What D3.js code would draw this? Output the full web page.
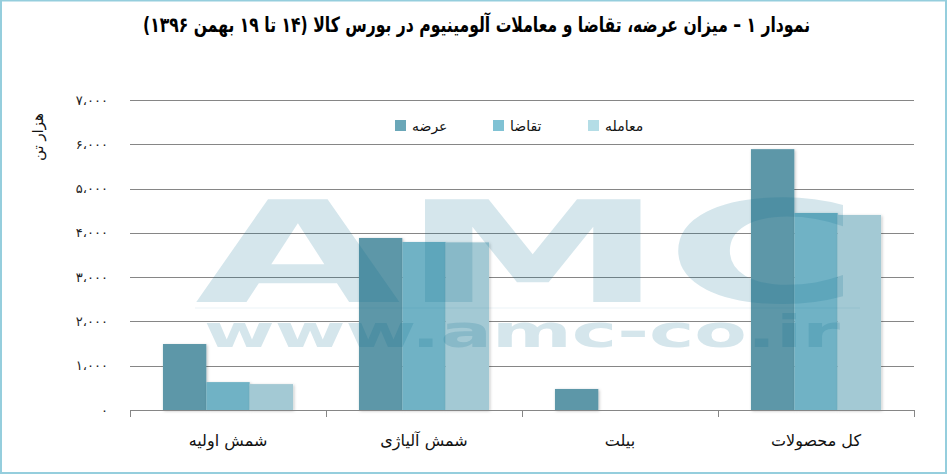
<!DOCTYPE html>
<html><head><meta charset="utf-8">
<script src="https://cdn.jsdelivr.net/npm/d3@7"></script>
<style>html,body{margin:0;padding:0;background:#fff;}svg{display:block;}</style>
</head><body>
<svg id="c" width="947" height="474"></svg>
<script>
const categories = ["شمش اولیه", "شمش آلیاژی", "بیلت", "کل محصولات"];
const seriesNames = ["عرضه", "تقاضا", "معامله"];
const supply = [1490, 3885, 475, 5890];
const demand = [630, 3795, 0, 4450];
const trade = [585, 3785, 0, 4405];
const yTicks = [0, 1000, 2000, 3000, 4000, 5000, 6000, 7000];
const title = "نمودار ۱ – میزان عرضه، تقاضا و معاملات آلومینیوم در بورس کالا (۱۴ تا ۱۹ بهمن ۱۳۹۶)";
const yTitle = "هزار تن";

const barColors = ["#5d97a8", "#6fb2c5", "#a3c9d4"];
const legendColors = ["#6aa7b8", "#80c2d4", "#b4dde6"];
const AR = "'DejaVu Sans', 'Noto Sans', sans-serif";

const svg = d3.select("#c");
const defs = svg.append("defs");
const f = defs.append("filter").attr("id", "sh").attr("x", "-20%").attr("y", "-20%").attr("width", "140%").attr("height", "140%");
f.append("feDropShadow").attr("dx", 1).attr("dy", 1).attr("stdDeviation", 1.5).attr("flood-color", "#000").attr("flood-opacity", 0.25);

const series = [supply, demand, trade];
const data = categories.map((c, i) => ({ cat: c, vals: series.map((s, k) => ({ k, v: s[i] })) }));

const x0 = d3.scaleBand().domain(categories).range([130, 914]).padding(0);
const x1 = d3.scaleBand().domain([0, 1, 2]).range([0, x0.bandwidth()]).paddingInner(0).paddingOuter(0.76);
const y = d3.scaleLinear().domain([0, 7000]).range([410, 100]);

const toFa = s => String(s).replace(/[0-9]/g, d => "۰۱۲۳۴۵۶۷۸۹"[+d]);
const fmt = v => toFa(d3.format(",")(v)).replace(/,/g, "،");

// gridlines
svg.append("g").selectAll("line").data(yTicks.filter(t => t > 0)).join("line")
  .attr("x1", 130).attr("x2", 914).attr("y1", d => Math.round(y(d)) + 0.5).attr("y2", d => Math.round(y(d)) + 0.5)
  .attr("stroke", "#868686").attr("stroke-width", 1);

// y labels
svg.append("g").selectAll("text").data(yTicks).join("text")
  .attr("x", 108).attr("y", d => y(d)).attr("dy", "0.35em")
  .attr("text-anchor", "end").attr("font-family", AR).attr("font-size", 13).attr("letter-spacing", 1.5).attr("fill", "#222")
  .text(d => fmt(d));

// bars
const g = svg.append("g").selectAll("g").data(data).join("g")
  .attr("transform", d => `translate(${x0(d.cat)},0)`);
g.selectAll("rect").data(d => d.vals.filter(v => v.v > 0)).join("rect")
  .attr("x", d => x1(d.k)).attr("width", x1.bandwidth())
  .attr("y", d => y(d.v)).attr("height", d => y(0) - y(d.v))
  .attr("fill", d => barColors[d.k]).attr("filter", "url(#sh)");

// x axis
const xa = svg.append("g").attr("transform", "translate(0,410)");
xa.append("line").attr("x1", 130).attr("x2", 914).attr("y1", 0.5).attr("y2", 0.5).attr("stroke", "#868686");
const bounds = categories.map(c => x0(c)).concat([x0.range()[1]]);
xa.selectAll("line.t").data(bounds).join("line").attr("class", "t")
  .attr("x1", d => Math.round(d) + 0.5).attr("x2", d => Math.round(d) + 0.5).attr("y1", 0).attr("y2", 7)
  .attr("stroke", "#868686");
xa.selectAll("text").data(categories).join("text")
  .attr("x", d => x0(d) + x0.bandwidth() / 2).attr("y", 36)
  .attr("text-anchor", "middle").attr("font-family", AR).attr("font-size", 16).attr("fill", "#111")
  .text(d => d);

// watermark
const wm = svg.append("g").attr("fill", "rgb(8,108,143)").attr("fill-opacity", 0.17).attr("font-family", AR).attr("font-weight", "bold");
wm.append("text").attr("x", 195).attr("y", 302).attr("font-size", 141)
  .attr("textLength", 665).attr("lengthAdjust", "spacingAndGlyphs").text("AMC");
wm.append("rect").attr("x", 195).attr("y", 307).attr("width", 665).attr("height", 2).attr("fill-opacity", 0.04);
wm.append("text").attr("x", 204).attr("y", 347).attr("font-size", 45)
  .attr("textLength", 636).attr("lengthAdjust", "spacingAndGlyphs").text("www.amc-co.ir");

// legend
const legX = [395, 493, 588];
const lg = svg.append("g").selectAll("g").data(seriesNames).join("g")
  .attr("transform", (d, i) => `translate(${legX[i]},120)`);
lg.append("rect").attr("width", 11).attr("height", 11).attr("fill", (d, i) => legendColors[i]);
lg.append("text").attr("x", 17).attr("y", 6).attr("dy", "0.35em").attr("font-family", AR).attr("font-size", 14).attr("fill", "#111").text(d => d);

// y title
svg.append("text").attr("transform", "translate(38,137) rotate(-90)").attr("text-anchor", "middle").attr("dy", "0.35em")
  .attr("font-family", AR).attr("font-size", 15).attr("fill", "#111").text(yTitle);

// title
svg.append("text").attr("x", 143).attr("y", 32)
  .attr("font-family", "'DejaVu Sans Condensed', 'DejaVu Sans', sans-serif").attr("font-weight", "bold").attr("font-size", 21).attr("fill", "#000")
  .attr("textLength", 667).attr("lengthAdjust", "spacingAndGlyphs")
  .text(title);

// border
const bc = "#95cedd";
svg.append("rect").attr("x", 0).attr("y", 0).attr("width", 2).attr("height", 474).attr("fill", bc);
svg.append("rect").attr("x", 0).attr("y", 0).attr("width", 947).attr("height", 1.5).attr("fill", bc);
svg.append("rect").attr("x", 945).attr("y", 0).attr("width", 2).attr("height", 474).attr("fill", bc);
svg.append("rect").attr("x", 0).attr("y", 472).attr("width", 947).attr("height", 2).attr("fill", bc);
</script>
</body></html>
